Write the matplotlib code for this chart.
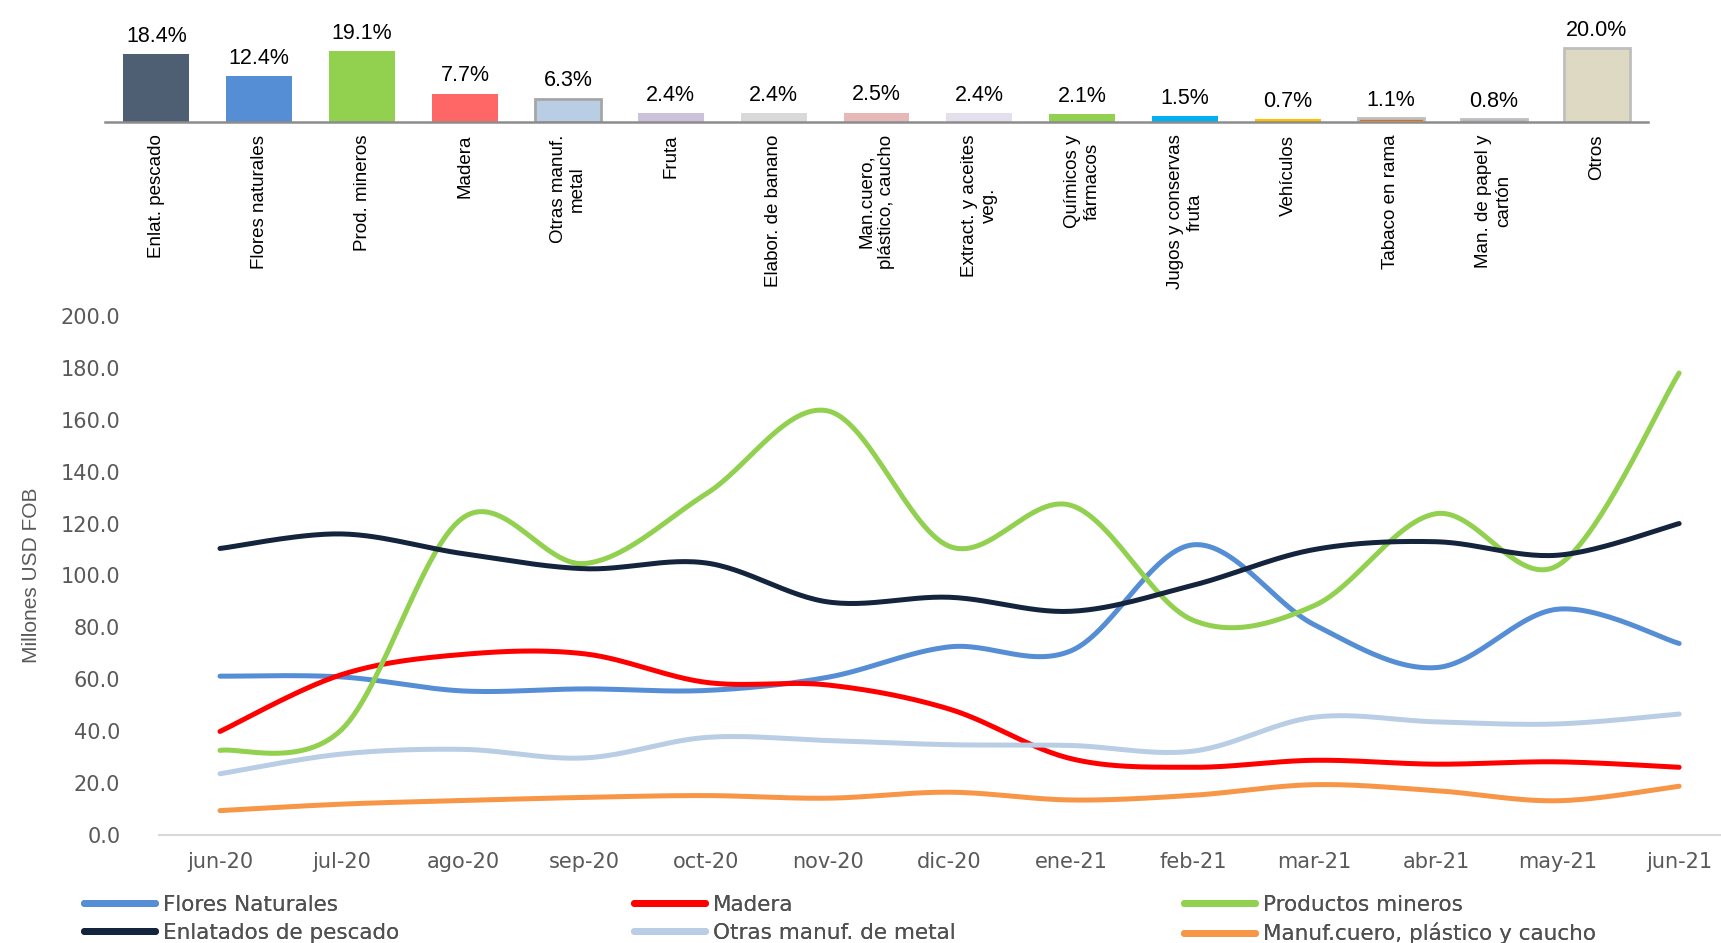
import numpy as np
import matplotlib
matplotlib.use("Agg")
import matplotlib.pyplot as plt
from matplotlib.lines import Line2D

# ---------------- data ----------------
bar_categories = ["Enlat. pescado", "Flores naturales", "Prod. mineros", "Madera",
                  "Otras manuf.\nmetal", "Fruta", "Elabor. de banano",
                  "Man.cuero,\nplástico, caucho", "Extract. y aceites\nveg.",
                  "Químicos y\nfármacos", "Jugos y conservas\nfruta", "Vehículos",
                  "Tabaco en rama", "Man. de papel y\ncartón", "Otros"]
bar_values = [18.4, 12.4, 19.1, 7.7, 6.3, 2.4, 2.4, 2.5, 2.4, 2.1, 1.5, 0.7, 1.1, 0.8, 20.0]
bar_colors = ["#4F5F73", "#558ED5", "#92D050", "#FF6666", "#B9CDE5", "#CCC1DA", "#D9D9D9",
              "#E6B9B8", "#E4DFEC", "#92D050", "#00B0F0", "#FFC000", "#E46C0A", "#4F81BD", "#DDD9C3"]
bar_edges = [None, None, None, None, "#A6A6A6", None, None, None, None, None, None, None,
             "#BFBFBF", "#BFBFBF", "#BFBFBF"]

months = ["jun-20", "jul-20", "ago-20", "sep-20", "oct-20", "nov-20", "dic-20",
          "ene-21", "feb-21", "mar-21", "abr-21", "may-21", "jun-21"]

flores = [61.2, 60.9, 55.5, 56.3, 55.7, 60.8, 72.5, 71.0, 111.8, 81.0, 64.5, 87.0, 73.8]
madera = [39.9, 61.8, 69.6, 69.8, 58.8, 57.8, 48.5, 29.4, 26.1, 28.8, 27.3, 28.2, 26.1]
mineros = [32.6, 40.6, 122.3, 104.6, 131.5, 163.4, 111.2, 127.0, 82.8, 88.4, 123.8, 103.8, 178.0]
enlatados = [110.4, 116.0, 108.4, 102.6, 104.8, 89.8, 91.6, 86.2, 96.2, 110.0, 113.0, 107.8, 120.0]
otras_metal = [23.6, 31.2, 33.0, 29.7, 37.6, 36.4, 34.8, 34.5, 32.3, 45.4, 43.6, 42.8, 46.6]
manuf_cuero = [9.4, 11.9, 13.3, 14.5, 15.2, 14.2, 16.5, 13.5, 15.3, 19.4, 17.1, 13.2, 18.8]

series_names = ["Flores Naturales", "Madera", "Productos mineros",
                "Enlatados de pescado", "Otras manuf. de metal", "Manuf.cuero, plástico y caucho"]
series_values = [flores, madera, mineros, enlatados, otras_metal, manuf_cuero]
series_colors = ["#558ED5", "#FF0000", "#92D050", "#14243D", "#B9CDE5", "#F79646"]

yticks = [0, 20, 40, 60, 80, 100, 120, 140, 160, 180, 200]

NARROW = ["Liberation Sans Narrow", "Liberation Sans", "DejaVu Sans"]
WIDE = ["DejaVu Sans"]


def smooth(x, y, n=30):
    """Catmull-Rom style smoothing (Excel 'smoothed line' look)."""
    x = np.asarray(x, float)
    y = np.asarray(y, float)
    P = np.column_stack([x, y])
    ext = np.vstack([P[0], P, P[-1]])
    out = []
    for i in range(1, len(ext) - 2):
        p0, p1, p2, p3 = ext[i - 1], ext[i], ext[i + 1], ext[i + 2]
        c1 = p1 + (p2 - p0) / 6.0
        c2 = p2 - (p3 - p1) / 6.0
        t = np.linspace(0, 1, n)[:, None]
        seg = ((1 - t) ** 3) * p1 + 3 * ((1 - t) ** 2) * t * c1 + 3 * (1 - t) * t ** 2 * c2 + t ** 3 * p2
        out.append(seg if i == 1 else seg[1:])
    pts = np.vstack(out)
    return pts[:, 0], pts[:, 1]


fig = plt.figure(figsize=(17.21, 9.43), dpi=100)

# ---------------- top bar chart ----------------
axb = fig.add_axes([0.061, 0.8706, 0.8966, 0.0981])
xb = np.arange(len(bar_categories))
for i, (v, c, e) in enumerate(zip(bar_values, bar_colors, bar_edges)):
    axb.bar(xb[i], v, width=0.64, color=c,
            edgecolor=e if e else c, linewidth=2.0 if e else 0, zorder=2)
    axb.text(xb[i], v + 2.0, f"{v:.1f}%", ha="center", va="bottom",
             fontsize=15.5, family=NARROW, color="black")
axb.set_xlim(-0.5, len(bar_categories) - 0.5)
axb.set_ylim(0, 25)
for s in ["top", "right", "left"]:
    axb.spines[s].set_visible(False)
axb.spines["bottom"].set_color("#8C8C8C")
axb.spines["bottom"].set_linewidth(1.8)
axb.set_yticks([])
axb.set_xticks(xb)
axb.set_xticklabels(bar_categories, rotation=90, ha="center", va="top",
                    multialignment="center", fontsize=13.5, family=NARROW, color="black")
axb.tick_params(axis="x", length=0, pad=9)

# ---------------- line chart ----------------
ax = fig.add_axes([0.0925, 0.1145, 0.9185, 0.5505])
x = np.arange(len(months))
for vals, col in zip(series_values, series_colors):
    sx, sy = smooth(x, vals)
    ax.plot(sx, sy, color=col, lw=3.6, solid_capstyle="round", zorder=3)
ax.set_xlim(-0.5, len(months) - 0.5)
ax.set_ylim(0, 200)
ax.set_yticks(yticks)
ax.set_yticklabels([f"{t:.1f}" for t in yticks], fontsize=15, family=WIDE, color="#595959")
ax.set_xticks(x)
ax.set_xticklabels(months, fontsize=15, family=WIDE, color="#595959")
ax.tick_params(axis="both", length=0)
ax.tick_params(axis="y", pad=28)
ax.tick_params(axis="x", pad=12)
for s in ["top", "right", "left"]:
    ax.spines[s].set_visible(False)
ax.spines["bottom"].set_color("#D9D9D9")
ax.spines["bottom"].set_linewidth(1.5)
ax.set_ylabel("Millones USD FOB", fontsize=15, family=NARROW, color="#595959", labelpad=14)

# ---------------- legend: 3 columns, 2 rows (row-major order) ----------------
handles = [Line2D([0], [0], color=c, lw=5, solid_capstyle="round") for c in series_colors]
col_x = [0.049, 0.3685, 0.688]
for k in range(3):
    idx = [k, k + 3]
    leg = fig.legend([handles[i] for i in idx], [series_names[i] for i in idx],
                     loc="upper left", bbox_to_anchor=(col_x[k], 0.051), ncol=1,
                     frameon=False, handlelength=3.3, handletextpad=0.35,
                     labelspacing=0.36, borderpad=0, borderaxespad=0,
                     prop={"family": WIDE, "size": 15.5}, labelcolor="#505050")
    fig.add_artist(leg)

fig.savefig("out.png", dpi=100)
